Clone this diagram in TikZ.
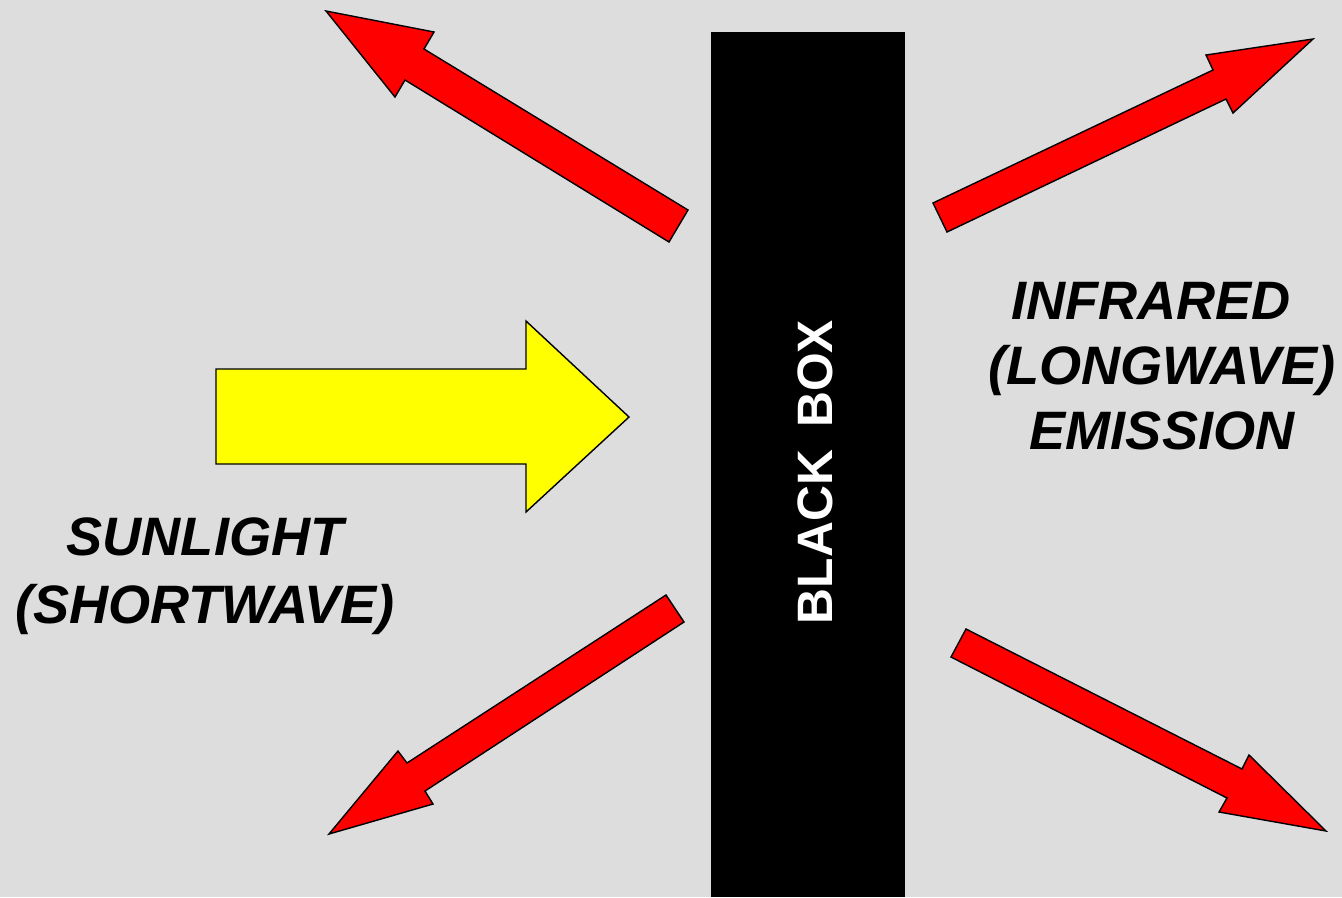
\documentclass[tikz,border=0pt]{standalone}
\usepackage{fontspec}
\setmainfont{Liberation Sans}
\usepackage{tikz}
\definecolor{panelgrey}{HTML}{DDDDDD}
\definecolor{rayred}{HTML}{FF0000}
\definecolor{sunyellow}{HTML}{FFFF00}
\tikzset{
    ray/.style={draw=black,fill=rayred,line width=0.8pt,line join=miter},
    sunray/.style={draw=black,fill=sunyellow,line width=0.8pt,line join=miter},
    caption/.style={align=center,inner sep=0pt,font=\bfseries\itshape\fontsize{30.8pt}{38.5pt}\selectfont}
}

\begin{document}
\begin{tikzpicture}[x=0.02cm,y=-0.02cm]
            % backdrop fixes the page size
            \fill [panelgrey] (0,0) rectangle (1342,897);
            % the box itself
            \fill [black] (711,32) rectangle (905,897);
            \node [rotate=90,text=white,inner sep=0pt,font=\bfseries\fontsize{28.3pt}{34pt}\selectfont] (boxlabel) at (815,472) {BLACK\hspace{0.45em}BOX};
            % incoming sunlight
            \filldraw [sunray] (216,369) -- (526,369) -- (526,321) -- (629,417) -- (526,512) -- (526,464) -- (216,464) -- cycle;
            % outgoing infrared, left side
            \filldraw [ray] (688,210) -- (424,49) -- (434,32) -- (326,11) -- (395,97) -- (405,80) -- (669,242) -- cycle;
            \filldraw [ray] (666,595) -- (407,763) -- (398,751) -- (329,834) -- (433,804) -- (425,791) -- (684,622) -- cycle;
            % outgoing infrared, right side
            \filldraw [ray] (933,203) -- (1213,70) -- (1206,55) -- (1313,39) -- (1233,113) -- (1226,99) -- (947,232) -- cycle;
            \filldraw [ray] (966,629) -- (1242,769) -- (1249,755) -- (1326,831) -- (1219,812) -- (1227,798) -- (951,657) -- cycle;
            % labels
            \node [caption] (sunlabel) at (205,576) {SUNLIGHT\\(SHORTWAVE)};
            \node [caption,font=\bfseries\itshape\fontsize{30.8pt}{37pt}\selectfont] (irlabel) at (1162,366) {INFRARED\hspace*{0.4em}\\(LONGWAVE)\\EMISSION};
\end{tikzpicture}
\end{document}
